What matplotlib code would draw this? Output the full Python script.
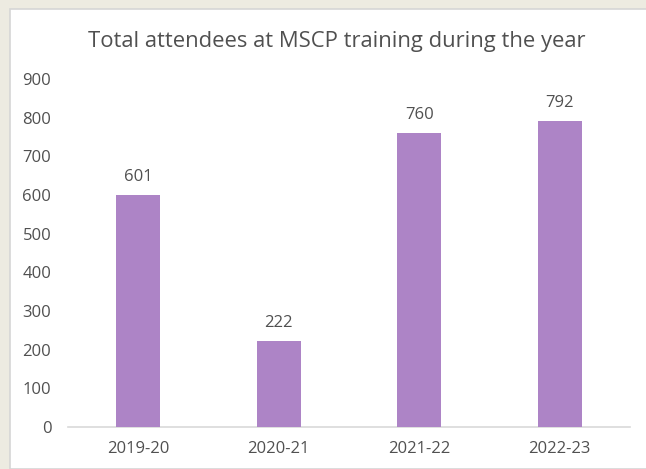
import matplotlib
matplotlib.use("Agg")
import matplotlib.pyplot as plt
from matplotlib.patches import Rectangle

categories = ["2019-20", "2020-21", "2021-22", "2022-23"]
values = [601, 222, 760, 792]
yticks = [0, 100, 200, 300, 400, 500, 600, 700, 800, 900]
title = "Total attendees at MSCP training during the year"

W, H = 646, 469
fig = plt.figure(figsize=(W / 100, H / 100), dpi=100)
fig.patch.set_facecolor("#EDEBE1")
fig.patches.append(Rectangle((10 / W, 0), 1, 1 - 9 / H, transform=fig.transFigure,
                             facecolor="white", edgecolor="#D6D6D6", linewidth=1.2, zorder=-5))

font = "Open Sans"
txt = "#505050"
ax = fig.add_axes([68 / W, 1 - 427 / H, (630 - 68) / W, (427 - 79) / H])
ax.set_zorder(2)
ax.set_facecolor("none")
x = range(len(categories))
bars = ax.bar(x, values, width=0.31, color="#AD84C6", zorder=3)
ax.set_xlim(-0.5, len(categories) - 0.5)
ax.set_ylim(0, 900)
ax.set_yticks(yticks)
ax.set_yticklabels([str(t) for t in yticks], fontfamily=font, fontsize=12, color=txt)
ax.set_xticks(list(x))
ax.set_xticklabels(categories, fontfamily=font, fontsize=12, color=txt)
for s in ["top", "right", "left"]:
    ax.spines[s].set_visible(False)
ax.spines["bottom"].set_color("#D9D9D9")
ax.spines["bottom"].set_linewidth(1.2)
ax.tick_params(axis="both", length=0)
ax.tick_params(axis="y", pad=12)
ax.tick_params(axis="x", pad=10)
for rect, v in zip(bars, values):
    ax.annotate(str(v), (rect.get_x() + rect.get_width() / 2, v), xytext=(0, 7),
                textcoords="offset points", ha="center", va="bottom",
                fontfamily=font, fontsize=12, color=txt)
fig.text(337 / W, 1 - 42 / H, title, ha="center", va="center",
         fontfamily=font, fontsize=15.8, color=txt, zorder=3)
fig.savefig("out.png", dpi=100, facecolor=fig.get_facecolor())
